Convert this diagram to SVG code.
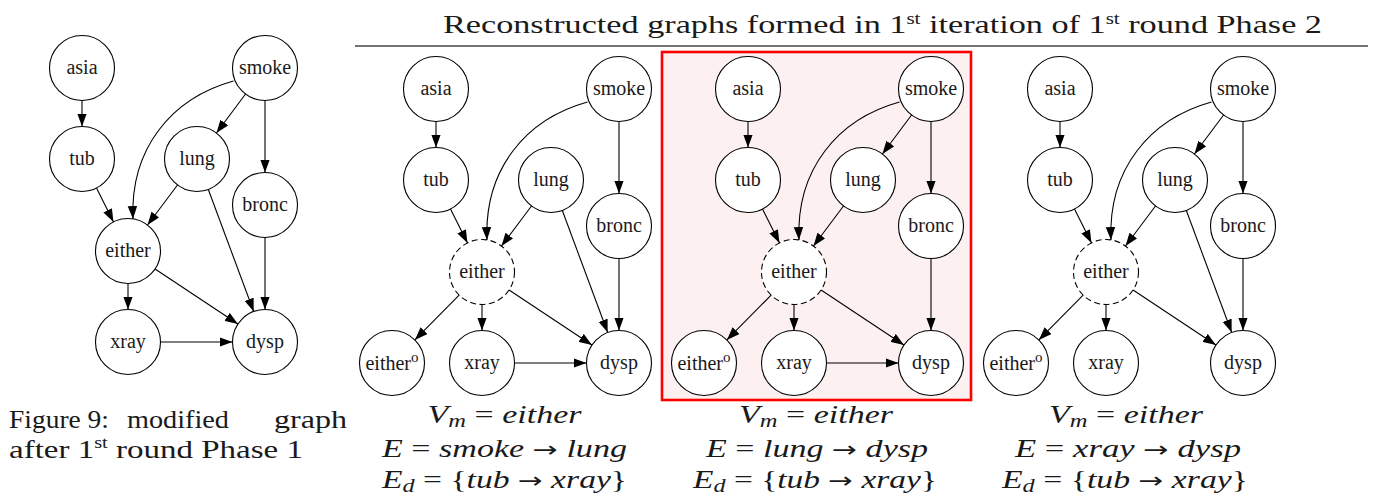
<svg xmlns="http://www.w3.org/2000/svg" width="1387" height="504" viewBox="0 0 1387 504">
<style>
.n circle{fill:#fff;stroke:#000;stroke-width:1.1}
.n circle.d{stroke-dasharray:6 3.5}
.lbl{font-family:"Liberation Serif","DejaVu Serif",serif;font-size:20px;text-anchor:middle;fill:#1a1a1a}
.e path{fill:none;stroke:#000;stroke-width:1.1;marker-end:url(#ah)}
.cap{font-family:"Liberation Serif","DejaVu Serif",serif;font-size:26px;fill:#1a1a1a}
.m{font-family:"Liberation Serif","DejaVu Serif",serif;font-size:25px;fill:#1a1a1a;text-anchor:middle}
.i{font-style:italic}
.ar{font-family:"DejaVu Sans",sans-serif;font-style:normal;font-size:22px}
</style>
<defs>
<marker id="ah" markerUnits="userSpaceOnUse" markerWidth="13" markerHeight="10" refX="13" refY="4.75" orient="auto"><path d="M0,0 L13,4.75 L0,9.5 z" fill="#000"/></marker>
</defs>

<!-- Title -->
<text class="cap" x="443" y="33" font-size="25" textLength="879" lengthAdjust="spacingAndGlyphs">Reconstructed graphs formed in 1<tspan font-size="16" dy="-9">st</tspan><tspan dy="9"> iteration of 1</tspan><tspan font-size="16" dy="-9">st</tspan><tspan dy="9"> round Phase 2</tspan></text>
<line x1="355" y1="46" x2="1368" y2="46" stroke="#444" stroke-width="1.5"/>

<!-- Highlight box -->
<rect x="662" y="52" width="309" height="348" fill="#fdf0f0" stroke="#ff0000" stroke-width="2.6"/>

<!-- Graph 1 (left) -->
<g id="graph1" transform="translate(82,68)">
 <g id="g1-asia" class="n"><circle cx="0" cy="0" r="32.5"/><text class="lbl" x="0" y="6">asia</text></g>
 <g id="g1-smoke" class="n"><circle cx="183" cy="0" r="32.5"/><text class="lbl" x="183" y="6">smoke</text></g>
 <g id="g1-tub" class="n"><circle cx="0" cy="91" r="32.5"/><text class="lbl" x="0" y="97">tub</text></g>
 <g id="g1-lung" class="n"><circle cx="115" cy="91" r="32.5"/><text class="lbl" x="115" y="97">lung</text></g>
 <g id="g1-bronc" class="n"><circle cx="183" cy="137" r="32.5"/><text class="lbl" x="183" y="143">bronc</text></g>
 <g id="g1-either" class="n"><circle cx="46" cy="183" r="32.5"/><text class="lbl" x="46" y="189">either</text></g>
 <g id="g1-xray" class="n"><circle cx="46" cy="274" r="32.5"/><text class="lbl" x="46" y="280">xray</text></g>
 <g id="g1-dysp" class="n"><circle cx="183" cy="274" r="32.5"/><text class="lbl" x="183" y="280">dysp</text></g>
 <g id="g1-edges" class="e">
  <path d="M0,32.5 L0,58.5"/>
  <path d="M163.55,26.04 L134.45,64.96"/>
  <path d="M183,32.5 L183,104.5"/>
  <path d="M151.5,13 C90,30 48,80 51,151"/>
  <path d="M14.53,120.07 L31.47,153.93"/>
  <path d="M95.5,117 L65.5,157"/>
  <path d="M126.32,121.47 L171.68,243.53"/>
  <path d="M183,169.5 L183,241.5"/>
  <path d="M46,215.5 L46,241.5"/>
  <path d="M73.07,200.98 L155.93,256.02"/>
  <path d="M78.5,274 L150.5,274"/>
 </g>
</g>

<!-- Graph 2 -->
<g id="graph2" transform="translate(436,89)">
 <g id="g2-asia" class="n"><circle cx="0" cy="0" r="32.5"/><text class="lbl" x="0" y="6">asia</text></g>
 <g id="g2-smoke" class="n"><circle cx="183" cy="0" r="32.5"/><text class="lbl" x="183" y="6">smoke</text></g>
 <g id="g2-tub" class="n"><circle cx="0" cy="91" r="32.5"/><text class="lbl" x="0" y="97">tub</text></g>
 <g id="g2-lung" class="n"><circle cx="115" cy="91" r="32.5"/><text class="lbl" x="115" y="97">lung</text></g>
 <g id="g2-bronc" class="n"><circle cx="183" cy="137" r="32.5"/><text class="lbl" x="183" y="143">bronc</text></g>
 <g id="g2-either" class="n"><circle class="d" cx="46" cy="183" r="32.5"/><text class="lbl" x="46" y="189">either</text></g>
 <g id="g2-eithero" class="n"><circle cx="-44" cy="274" r="32.5"/><text class="lbl" x="-44" y="281">either<tspan font-size="15" dy="-8">o</tspan></text></g>
 <g id="g2-xray" class="n"><circle cx="46" cy="274" r="32.5"/><text class="lbl" x="46" y="280">xray</text></g>
 <g id="g2-dysp" class="n"><circle cx="183" cy="274" r="32.5"/><text class="lbl" x="183" y="280">dysp</text></g>
 <g id="g2-edges" class="e">
  <path d="M0,32.5 L0,58.5"/>
  <path d="M183,32.5 L183,104.5"/>
  <path d="M151.5,13 C90,30 48,80 51,151"/>
  <path d="M14.53,120.07 L31.47,153.93"/>
  <path d="M95.5,117 L65.5,157"/>
  <path d="M126.32,121.47 L171.68,243.53"/>
  <path d="M183,169.5 L183,241.5"/>
  <path d="M46,215.5 L46,241.5"/>
  <path d="M73.07,200.98 L155.93,256.02"/>
  <path d="M78.5,274 L150.5,274"/>
  <path d="M23.15,206.11 L-21.15,250.89"/>
 </g>
</g>

<!-- Graph 3 -->
<g id="graph3" transform="translate(748,89)">
 <g id="g3-asia" class="n"><circle cx="0" cy="0" r="32.5"/><text class="lbl" x="0" y="6">asia</text></g>
 <g id="g3-smoke" class="n"><circle cx="183" cy="0" r="32.5"/><text class="lbl" x="183" y="6">smoke</text></g>
 <g id="g3-tub" class="n"><circle cx="0" cy="91" r="32.5"/><text class="lbl" x="0" y="97">tub</text></g>
 <g id="g3-lung" class="n"><circle cx="115" cy="91" r="32.5"/><text class="lbl" x="115" y="97">lung</text></g>
 <g id="g3-bronc" class="n"><circle cx="183" cy="137" r="32.5"/><text class="lbl" x="183" y="143">bronc</text></g>
 <g id="g3-either" class="n"><circle class="d" cx="46" cy="183" r="32.5"/><text class="lbl" x="46" y="189">either</text></g>
 <g id="g3-eithero" class="n"><circle cx="-44" cy="274" r="32.5"/><text class="lbl" x="-44" y="281">either<tspan font-size="15" dy="-8">o</tspan></text></g>
 <g id="g3-xray" class="n"><circle cx="46" cy="274" r="32.5"/><text class="lbl" x="46" y="280">xray</text></g>
 <g id="g3-dysp" class="n"><circle cx="183" cy="274" r="32.5"/><text class="lbl" x="183" y="280">dysp</text></g>
 <g id="g3-edges" class="e">
  <path d="M0,32.5 L0,58.5"/>
  <path d="M163.55,26.04 L134.45,64.96"/>
  <path d="M183,32.5 L183,104.5"/>
  <path d="M151.5,13 C90,30 48,80 51,151"/>
  <path d="M14.53,120.07 L31.47,153.93"/>
  <path d="M95.5,117 L65.5,157"/>
  <path d="M183,169.5 L183,241.5"/>
  <path d="M46,215.5 L46,241.5"/>
  <path d="M73.07,200.98 L155.93,256.02"/>
  <path d="M78.5,274 L150.5,274"/>
  <path d="M23.15,206.11 L-21.15,250.89"/>
 </g>
</g>

<!-- Graph 4 -->
<g id="graph4" transform="translate(1060,89)">
 <g id="g4-asia" class="n"><circle cx="0" cy="0" r="32.5"/><text class="lbl" x="0" y="6">asia</text></g>
 <g id="g4-smoke" class="n"><circle cx="183" cy="0" r="32.5"/><text class="lbl" x="183" y="6">smoke</text></g>
 <g id="g4-tub" class="n"><circle cx="0" cy="91" r="32.5"/><text class="lbl" x="0" y="97">tub</text></g>
 <g id="g4-lung" class="n"><circle cx="115" cy="91" r="32.5"/><text class="lbl" x="115" y="97">lung</text></g>
 <g id="g4-bronc" class="n"><circle cx="183" cy="137" r="32.5"/><text class="lbl" x="183" y="143">bronc</text></g>
 <g id="g4-either" class="n"><circle class="d" cx="46" cy="183" r="32.5"/><text class="lbl" x="46" y="189">either</text></g>
 <g id="g4-eithero" class="n"><circle cx="-44" cy="274" r="32.5"/><text class="lbl" x="-44" y="281">either<tspan font-size="15" dy="-8">o</tspan></text></g>
 <g id="g4-xray" class="n"><circle cx="46" cy="274" r="32.5"/><text class="lbl" x="46" y="280">xray</text></g>
 <g id="g4-dysp" class="n"><circle cx="183" cy="274" r="32.5"/><text class="lbl" x="183" y="280">dysp</text></g>
 <g id="g4-edges" class="e">
  <path d="M0,32.5 L0,58.5"/>
  <path d="M163.55,26.04 L134.45,64.96"/>
  <path d="M183,32.5 L183,104.5"/>
  <path d="M151.5,13 C90,30 48,80 51,151"/>
  <path d="M14.53,120.07 L31.47,153.93"/>
  <path d="M95.5,117 L65.5,157"/>
  <path d="M126.32,121.47 L171.68,243.53"/>
  <path d="M183,169.5 L183,241.5"/>
  <path d="M46,215.5 L46,241.5"/>
  <path d="M73.07,200.98 L155.93,256.02"/>
  <path d="M23.15,206.11 L-21.15,250.89"/>
 </g>
</g>

<!-- Left caption -->
<g id="caption">
 <text class="cap" x="9" y="428" textLength="100" lengthAdjust="spacingAndGlyphs">Figure 9:</text>
 <text class="cap" x="127" y="428" textLength="102" lengthAdjust="spacingAndGlyphs">modified</text>
 <text class="cap" x="274" y="428" textLength="73" lengthAdjust="spacingAndGlyphs">graph</text>
 <text class="cap" x="9" y="458" textLength="294" lengthAdjust="spacingAndGlyphs">after 1<tspan font-size="16" dy="-10">st</tspan><tspan dy="10"> round Phase 1</tspan></text>
</g>

<!-- Formulas -->
<g id="formulas">
 <text class="m" x="504.5" y="422.5" textLength="154" lengthAdjust="spacingAndGlyphs"><tspan class="i">V</tspan><tspan class="i" font-size="18" dy="4">m</tspan><tspan dy="-4"> = </tspan><tspan class="i">either</tspan></text>
 <text class="m" x="504.5" y="456.5" textLength="245" lengthAdjust="spacingAndGlyphs"><tspan class="i">E</tspan> = <tspan class="i">smoke</tspan> <tspan class="ar">→</tspan> <tspan class="i">lung</tspan></text>
 <text class="m" x="504.5" y="488" textLength="245" lengthAdjust="spacingAndGlyphs"><tspan class="i">E</tspan><tspan class="i" font-size="18" dy="4">d</tspan><tspan dy="-4"> = {</tspan><tspan class="i">tub</tspan> <tspan class="ar">→</tspan> <tspan class="i">xray</tspan>}</text>

 <text class="m" x="816" y="422.5" textLength="154" lengthAdjust="spacingAndGlyphs"><tspan class="i">V</tspan><tspan class="i" font-size="18" dy="4">m</tspan><tspan dy="-4"> = </tspan><tspan class="i">either</tspan></text>
 <text class="m" x="817" y="456.5" textLength="222" lengthAdjust="spacingAndGlyphs"><tspan class="i">E</tspan> = <tspan class="i">lung</tspan> <tspan class="ar">→</tspan> <tspan class="i">dysp</tspan></text>
 <text class="m" x="815" y="488" textLength="244" lengthAdjust="spacingAndGlyphs"><tspan class="i">E</tspan><tspan class="i" font-size="18" dy="4">d</tspan><tspan dy="-4"> = {</tspan><tspan class="i">tub</tspan> <tspan class="ar">→</tspan> <tspan class="i">xray</tspan>}</text>

 <text class="m" x="1126" y="422.5" textLength="154" lengthAdjust="spacingAndGlyphs"><tspan class="i">V</tspan><tspan class="i" font-size="18" dy="4">m</tspan><tspan dy="-4"> = </tspan><tspan class="i">either</tspan></text>
 <text class="m" x="1128" y="456.5" textLength="226" lengthAdjust="spacingAndGlyphs"><tspan class="i">E</tspan> = <tspan class="i">xray</tspan> <tspan class="ar">→</tspan> <tspan class="i">dysp</tspan></text>
 <text class="m" x="1125" y="488" textLength="246" lengthAdjust="spacingAndGlyphs"><tspan class="i">E</tspan><tspan class="i" font-size="18" dy="4">d</tspan><tspan dy="-4"> = {</tspan><tspan class="i">tub</tspan> <tspan class="ar">→</tspan> <tspan class="i">xray</tspan>}</text>
</g>
</svg>
